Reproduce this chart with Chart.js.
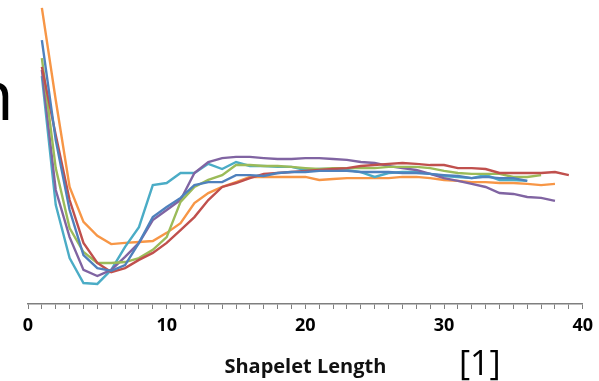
<!DOCTYPE html>
<html>
<head>
<meta charset="utf-8">
<script src="https://cdn.jsdelivr.net/npm/chart.js@4.4.1/dist/chart.umd.min.js"></script>
<style>
    html, body { margin: 0; padding: 0; background: #fff; }
    #wrap { position: relative; width: 599px; height: 381px; overflow: hidden; }
    #chart { position: absolute; left: 0; top: 0; }
    .slide-text { position: absolute; font-family: "Open Sans", sans-serif; color: #000; white-space: nowrap; }
    #cutN { left: -29px; top: 58px; font-size: 70px; line-height: 70px; }
    #ref { left: 459px; top: 345px; font-size: 34px; line-height: 34px; }
</style>
</head>
<body>
<div id="wrap">
    <canvas id="chart" width="599" height="381"></canvas>
    <div class="slide-text" id="cutN">n</div>
    <div class="slide-text" id="ref">[1]</div>
</div>
<script>
    // shapelet lengths on the x axis
    const lengths = [1, 2, 3, 4, 5, 6, 7, 8, 9, 10, 11, 12, 13, 14, 15, 16, 17, 18, 19, 20,
        21, 22, 23, 24, 25, 26, 27, 28, 29, 30, 31, 32, 33, 34, 35, 36, 37, 38, 39];
    const majorTicks = [0, 10, 20, 30, 40];

    // one curve per series (no y axis is shown, values are relative)
    const blueSeries = [86.8, 53.9, 30.9, 16.1, 11.8, 10.9, 12.8, 20.1, 28.6, 31.9, 34.9, 39.1, 40.1, 40.1, 42.4,
        42.4, 42.1, 43.1, 43.4, 43.4, 43.8, 43.8, 43.8, 43.4, 43.4, 43.4, 43.1, 43.1, 42.8, 42.4,
        42.1, 41.4, 41.8, 41.4, 41.4, 40.5];
    const redSeries = [78.0, 55.6, 34.2, 20.1, 13.5, 10.5, 11.8, 14.5, 16.8, 20.1, 24.3, 28.6, 34.2, 38.5, 39.8,
        41.4, 42.8, 43.1, 43.4, 43.8, 44.1, 44.4, 44.7, 45.4, 45.7, 46.1, 46.4, 46.1, 45.7, 45.7,
        44.7, 44.7, 44.4, 43.1, 43.1, 43.1, 43.1, 43.4, 42.4];
    const greenSeries = [80.9, 44.7, 25.0, 17.1, 13.5, 13.5, 13.8, 15.1, 17.8, 22.0, 33.6, 38.5, 40.8, 42.4, 45.7,
        45.7, 45.4, 45.4, 45.1, 44.7, 44.4, 44.7, 44.7, 44.7, 44.7, 45.1, 45.1, 45.1, 44.7, 43.8,
        43.1, 42.8, 42.8, 42.8, 41.8, 41.8, 42.4];
    const purpleSeries = [77.0, 37.5, 22.0, 11.2, 9.2, 11.2, 15.5, 20.1, 27.6, 30.9, 34.2, 43.1, 46.7, 48.0, 48.4,
        48.4, 48.0, 47.7, 47.7, 48.0, 48.0, 47.7, 47.4, 46.7, 46.4, 45.4, 44.7, 44.1, 42.8, 41.4,
        40.5, 39.5, 38.5, 36.5, 36.2, 35.2, 34.9, 33.9];
    const tealSeries = [75.0, 32.6, 15.1, 6.9, 6.6, 11.2, 18.8, 25.3, 39.1, 39.8, 43.1, 43.1, 46.1, 44.4, 46.7,
        45.4, 45.4, 45.1, 45.1, 44.1, 44.4, 44.4, 44.1, 43.4, 41.8, 43.1, 43.4, 43.4, 42.8, 42.1,
        41.8, 41.4, 42.4, 40.8, 40.8, 40.5];
    const orangeSeries = [97.4, 67.1, 38.5, 27.0, 22.4, 19.7, 20.1, 20.4, 20.7, 23.4, 26.6, 33.2, 36.5, 38.5, 40.1,
        41.8, 41.8, 41.8, 41.8, 41.8, 40.8, 41.1, 41.4, 41.4, 41.4, 41.4, 41.8, 41.8, 41.4, 40.8,
        40.5, 40.1, 40.1, 39.8, 39.8, 39.5, 39.1, 39.5];

    const seriesList = [
        { values: blueSeries, color: '#4F81BD' },
        { values: redSeries, color: '#C0504D' },
        { values: greenSeries, color: '#9BBB59' },
        { values: purpleSeries, color: '#8064A2' },
        { values: tealSeries, color: '#4BACC6' },
        { values: orangeSeries, color: '#F79646' }
    ];

    const toPoints = values => values.map((v, i) => ({ x: lengths[i], y: v }));

    var ctx = document.getElementById('chart').getContext('2d');
    var shapeletChart = new Chart(ctx, {
        type: 'line',
        data: {
            datasets: seriesList.map(s => ({
                data: toPoints(s.values),
                borderColor: s.color,
                borderWidth: 2.4,
                pointRadius: 0,
                tension: 0,
                fill: false
            }))
        },
        options: {
            responsive: false,
            animation: false,
            layout: {
                padding: { left: 28, right: 14, top: 0, bottom: 0 }
            },
            plugins: {
                legend: { display: false },
                tooltip: { enabled: false }
            },
            scales: {
                x: {
                    type: 'linear',
                    min: 0,
                    max: 40,
                    afterFit: scale => { scale.height = 77; },
                    border: { display: true, color: '#7f7f7f', width: 1.5 },
                    grid: { drawOnChartArea: false, drawTicks: true, tickLength: 5, color: '#7f7f7f', lineWidth: 1 },
                    ticks: {
                        stepSize: 1,
                        autoSkip: false,
                        maxRotation: 0,
                        padding: 6,
                        color: '#000',
                        font: { family: 'Open Sans', size: 18, weight: 'bold' },
                        callback: value => majorTicks.includes(value) ? String(value) : ''
                    },
                    title: {
                        display: true,
                        text: 'Shapelet Length',
                        color: '#111',
                        font: { family: 'Open Sans', size: 20, weight: 'bold' },
                        padding: { top: 0, bottom: 2 }
                    }
                },
                y: {
                    display: false,
                    min: 0,
                    max: 100
                }
            }
        }
    });
</script>
</body>
</html>
